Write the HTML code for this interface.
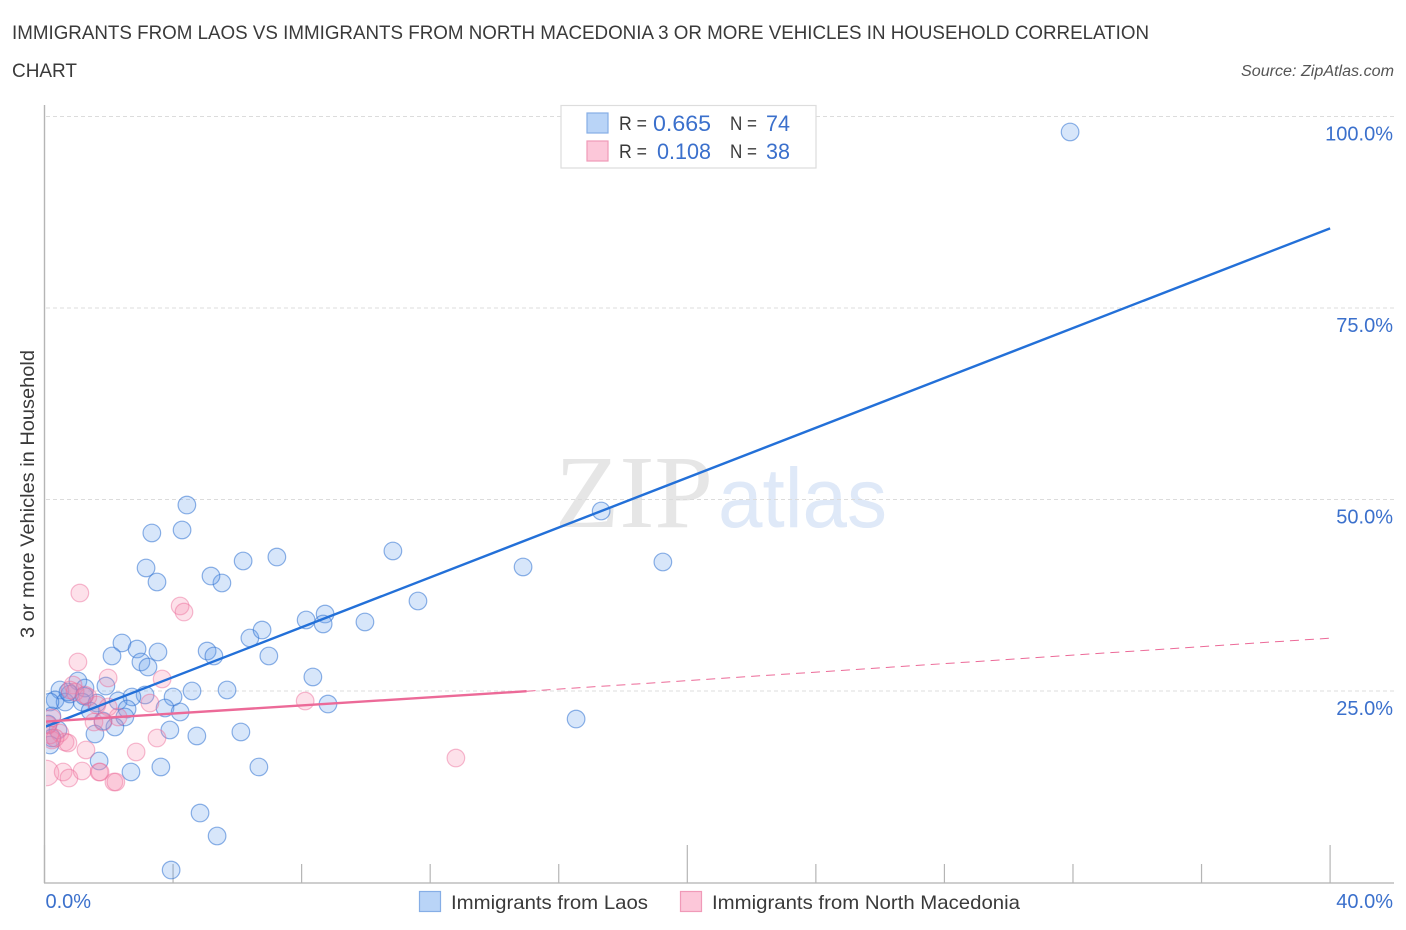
<!DOCTYPE html>
<html lang="en">
<head>
<meta charset="utf-8">
<title>Immigrants from Laos vs Immigrants from North Macedonia</title>
<style>
html,body{margin:0;padding:0;background:#fff;width:1406px;height:930px;overflow:hidden}
svg{display:block;font-family:"Liberation Sans",sans-serif}
</style>
</head>
<body>
<svg id="chart" width="1406" height="930" viewBox="0 0 1406 930" xmlns="http://www.w3.org/2000/svg">
  <defs><clipPath id="plot-clip"><rect x="46" y="100" width="1360" height="783"/></clipPath></defs>
  <text x="12" y="39" font-size="19.5" fill="#3a3a3a" textLength="1137" lengthAdjust="spacingAndGlyphs">IMMIGRANTS FROM LAOS VS IMMIGRANTS FROM NORTH MACEDONIA 3 OR MORE VEHICLES IN HOUSEHOLD CORRELATION</text>
  <text x="12" y="77" font-size="19.5" fill="#3a3a3a" textLength="65" lengthAdjust="spacingAndGlyphs">CHART</text>
  <text x="1394" y="76" font-size="15.5" font-style="italic" fill="#555" text-anchor="end" textLength="153" lengthAdjust="spacingAndGlyphs">Source: ZipAtlas.com</text>

  <g>
    <text x="555" y="527" font-family="'Liberation Serif',serif" font-size="104" fill="#e6e6e6" textLength="158" lengthAdjust="spacingAndGlyphs">ZIP</text>
    <text x="718" y="527" font-size="84" fill="#dfe9f8" textLength="169" lengthAdjust="spacingAndGlyphs">atlas</text>
  </g>

  <g id="grid"></g>
  <g id="axes">
    <line x1="44.5" y1="105" x2="44.5" y2="883" stroke="#b5b5b5" stroke-width="1.4"/>
    <line x1="44" y1="883" x2="1394" y2="883" stroke="#bdbdbd" stroke-width="1.6"/>
  </g>
  <g id="x-ticks"></g>
  <g id="y-labels"></g>
  <g id="x-labels"></g>

  <text transform="translate(34,494) rotate(-90)" font-size="19" fill="#3a3a3a" text-anchor="middle" textLength="288" lengthAdjust="spacingAndGlyphs">3 or more Vehicles in Household</text>

  <g clip-path="url(#plot-clip)">
    <g id="points-laos"></g>
    <g id="points-macedonia"></g>
    <g id="trend-lines"></g>
  </g>

  <g>
    <rect x="561" y="105.500" width="255" height="62.500" fill="#fff" stroke="#ddd" stroke-width="1.2"/>
    <rect x="587" y="113" width="21" height="20" fill="#b9d4f7" stroke="#86aee6" stroke-width="1.2"/>
    <rect x="587" y="141" width="21" height="20" fill="#fcc7d9" stroke="#f09ab8" stroke-width="1.2"/>
    <text x="619" y="130" font-size="19" fill="#3a3a3a" textLength="28" lengthAdjust="spacingAndGlyphs">R =</text>
    <text x="653" y="131" font-size="22" fill="#3b70cc" textLength="58" lengthAdjust="spacingAndGlyphs">0.665</text>
    <text x="730" y="130" font-size="19" fill="#3a3a3a" textLength="27" lengthAdjust="spacingAndGlyphs">N =</text>
    <text x="766" y="131" font-size="22" fill="#3b70cc" textLength="24" lengthAdjust="spacingAndGlyphs">74</text>
    <text x="619" y="158" font-size="19" fill="#3a3a3a" textLength="28" lengthAdjust="spacingAndGlyphs">R =</text>
    <text x="657" y="159" font-size="22" fill="#3b70cc" textLength="54" lengthAdjust="spacingAndGlyphs">0.108</text>
    <text x="730" y="158" font-size="19" fill="#3a3a3a" textLength="27" lengthAdjust="spacingAndGlyphs">N =</text>
    <text x="766" y="159" font-size="22" fill="#3b70cc" textLength="24" lengthAdjust="spacingAndGlyphs">38</text>
  </g>

  <g>
    <rect x="419.500" y="891.500" width="21" height="20" fill="#b9d4f7" stroke="#86aee6" stroke-width="1.2"/>
    <text x="451" y="909" font-size="19.5" fill="#3a3a3a" textLength="197" lengthAdjust="spacingAndGlyphs">Immigrants from Laos</text>
    <rect x="680.500" y="891.500" width="21" height="20" fill="#fcc7d9" stroke="#f09ab8" stroke-width="1.2"/>
    <text x="712" y="909" font-size="19.5" fill="#3a3a3a" textLength="308" lengthAdjust="spacingAndGlyphs">Immigrants from North Macedonia</text>
  </g>
</svg>
<script>
const yTickValues = [25, 50, 75, 100];
const yTickLabels = ["25.0%", "50.0%", "75.0%", "100.0%"];
const xTickValues = [0, 4, 8, 12, 16, 20, 24, 28, 32, 36, 40];
const xMajorTicks = [0, 20, 40];
const xEndValues = [0, 40];
const xEndLabels = ["0.0%", "40.0%"];

const laosX = [31.91,17.32,19.24,14.89,10.84,11.62,9.97,8.73,8.67,8.14,7.23,6.18,5.52,5.18,4.43,4.28,3.34,3.16,3.50,2.41,2.88,2.10,3.00,3.22,3.53,5.06,5.27,6.39,6.77,6.98,8.35,8.82,16.54,5.68,4.59,4.00,3.13,2.72,2.29,2.57,2.50,2.19,1.82,3.75,4.22,3.90,4.74,6.11,6.67,3.62,2.69,1.70,1.57,4.84,5.37,3.94,1.91,1.04,1.26,0.48,0.33,0.64,0.79,1.17,1.63,1.42,0.17,0.23,0.42,0.11,0.23,0.17,0.73,1.23];
const laosY = [97.98,48.50,41.84,41.19,43.28,36.75,34.01,35.05,33.75,34.27,42.49,41.97,39.10,40.01,49.28,46.02,45.63,41.06,39.23,31.27,30.48,29.57,28.79,28.13,30.09,30.22,29.57,31.92,32.96,29.57,26.83,23.30,21.34,25.13,25.00,24.22,24.48,24.22,23.70,22.65,21.61,20.30,21.08,22.78,22.26,19.91,19.13,19.65,15.08,15.08,14.43,15.86,19.39,9.07,6.07,1.63,25.65,26.31,25.39,25.13,23.83,23.56,24.61,23.56,23.43,22.39,23.56,21.74,19.91,20.69,18.86,17.95,24.87,24.35];

const macedoniaX = [1.10,1.04,4.22,4.34,3.66,1.98,8.11,12.80,0.89,0.79,0.95,1.35,1.63,1.98,1.54,1.82,3.28,3.50,2.85,2.29,1.29,0.48,0.64,0.73,0.23,0.17,0.33,0.05,0.58,0.76,1.70,1.17,2.16,2.22,0.11,0.23,1.73,1.26];
const macedoniaY = [37.79,28.79,36.10,35.31,26.57,26.70,23.69,16.25,25.78,25.13,24.87,24.22,23.17,22.91,20.95,20.95,23.43,18.86,17.04,21.61,17.30,19.52,18.34,18.21,18.60,19.26,18.86,14.29,14.43,13.64,14.43,14.56,13.12,13.12,20.56,21.48,14.43,24.48];
const macedoniaWeight = [1,1,1,1,1,1,1,1,1,1,1,1,1,1,1,1,1,1,1,1,1,1,1,1,1,1,1,1.45,1,1,1,1,1,1,1,1,1,1];

const laosTrendX = [0, 40];
const laosTrendY = [20.3, 85.4];
const macedoniaSolidX = [0, 15];
const macedoniaSolidY = [21.0, 24.97];
const macedoniaDashX = [15, 40];
const macedoniaDashY = [24.97, 31.9];

const NS = "http://www.w3.org/2000/svg";
function xScale(v){ return 44.5 + v * 32.14; }
function yScale(v){ return 882.5 - v * 7.66; }
function make(tag, attrs, parent){
  const el = document.createElementNS(NS, tag);
  for (const k in attrs) el.setAttribute(k, attrs[k]);
  parent.appendChild(el);
  return el;
}

const grid = document.getElementById("grid");
const yLabels = document.getElementById("y-labels");
yTickValues.forEach(function(v, i){
  const y = yScale(v);
  const line = make("line", {x1:46, x2:1394, y1:y, y2:y, stroke:"#dcdcdc", "stroke-width":1, "stroke-dasharray":"4 3"}, grid);
  
  
  const t = make("text", {x:1393, y:y+24, "font-size":20, fill:"#3b70cc", "text-anchor":"end"}, yLabels);
  
  
  t.textContent = yTickLabels[i];
});

const xTicks = document.getElementById("x-ticks");
xTickValues.forEach(function(v){
  const x = xScale(v);
  const major = xMajorTicks.indexOf(v) >= 0;
  const tick = make("line", {x1:x, x2:x, y1:major ? 845 : 864, y2:883, stroke:"#b5b5b5", "stroke-width":1.2}, xTicks);
  
  
});

const xLabels = document.getElementById("x-labels");
xEndValues.forEach(function(v, i){
  const t = make("text", {x: i === 0 ? xScale(v) + 1 : 1393, y:908, "font-size":20, fill:"#3b70cc", "text-anchor": i === 0 ? "start" : "end"}, xLabels);
  
  
  t.textContent = xEndLabels[i];
});

const laosGroup = document.getElementById("points-laos");
laosX.forEach(function(v, i){
  const c = make("circle", {cx:xScale(v), cy:yScale(laosY[i]), r:8.8, fill:"rgba(100,160,235,0.26)", stroke:"rgba(50,115,210,0.55)", "stroke-width":1.2}, laosGroup);
  
  
});

const macedoniaGroup = document.getElementById("points-macedonia");
macedoniaX.forEach(function(v, i){
  const c = make("circle", {cx:xScale(v), cy:yScale(macedoniaY[i]), r:8.8 * macedoniaWeight[i], fill:"rgba(248,140,175,0.26)", stroke:"rgba(235,105,150,0.45)", "stroke-width":1.2}, macedoniaGroup);
  
  
});

const trends = document.getElementById("trend-lines");
const laosLine = make("line", {x1:xScale(laosTrendX[0]), y1:yScale(laosTrendY[0]), x2:xScale(laosTrendX[1]), y2:yScale(laosTrendY[1]), stroke:"#2370d8", "stroke-width":2.4}, trends);


const macSolid = make("line", {x1:xScale(macedoniaSolidX[0]), y1:yScale(macedoniaSolidY[0]), x2:xScale(macedoniaSolidX[1]), y2:yScale(macedoniaSolidY[1]), stroke:"#ec6a98", "stroke-width":2.4}, trends);


const macDash = make("line", {x1:xScale(macedoniaDashX[0]), y1:yScale(macedoniaDashY[0]), x2:xScale(macedoniaDashX[1]), y2:yScale(macedoniaDashY[1]), stroke:"#ec6a98", "stroke-width":1, "stroke-dasharray":"9 6"}, trends);


</script>
</body>
</html>
